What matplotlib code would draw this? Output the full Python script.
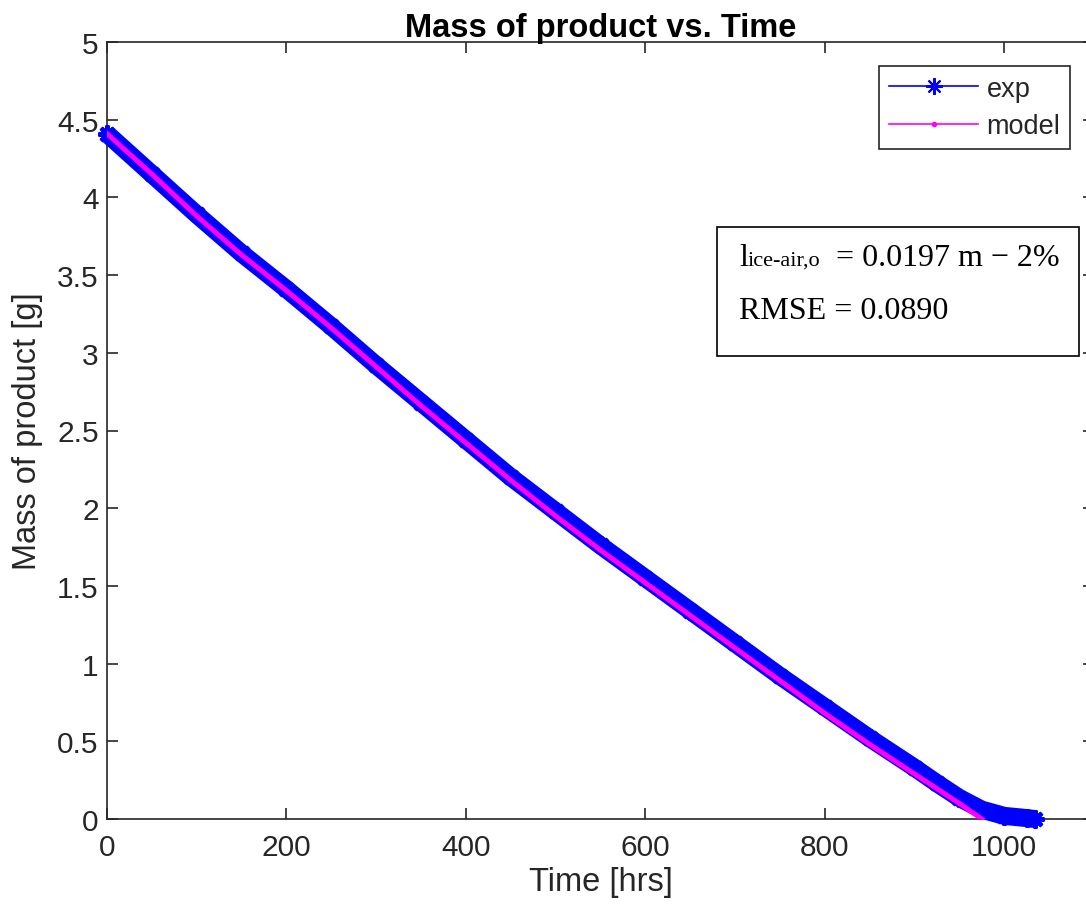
import matplotlib
matplotlib.use("Agg")
import matplotlib.pyplot as plt
from matplotlib.lines import Line2D
from matplotlib.patches import Rectangle
from matplotlib.offsetbox import TextArea, HPacker, VPacker, AnchoredOffsetbox

# Experimental mass record [hrs, g]
exp_time = [0, 50, 100, 150, 200, 250, 300, 350, 400, 450, 500, 550, 600,
            650, 700, 750, 800, 850, 900, 925, 950, 975, 1000, 1025, 1034]
exp_mass = [4.41, 4.15, 3.89, 3.64, 3.41, 3.17, 2.92, 2.68, 2.44, 2.20, 1.98,
            1.76, 1.55, 1.34, 1.13, 0.92, 0.72, 0.52, 0.33, 0.23, 0.135, 0.06,
            0.02, 0.006, 0.0]

# Model prediction [hrs, g]
model_time = [0, 50, 100, 150, 200, 250, 300, 350, 400, 450, 500, 550, 600,
              650, 700, 750, 800, 850, 900, 950, 975]
model_mass = [4.41, 4.15, 3.88, 3.63, 3.40, 3.16, 2.91, 2.66, 2.42, 2.18, 1.95,
              1.73, 1.52, 1.31, 1.10, 0.89, 0.68, 0.48, 0.29, 0.10, 0.0]

x_ticks = [0, 200, 400, 600, 800, 1000]
y_ticks = [0, 0.5, 1, 1.5, 2, 2.5, 3, 3.5, 4, 4.5, 5]
y_ticklabels = ["0", "0.5", "1", "1.5", "2", "2.5", "3", "3.5", "4", "4.5", "5"]

W, H = 1086, 920
axis_col = "#262626"
plt.rcParams["font.family"] = ["Liberation Sans", "DejaVu Sans"]

fig = plt.figure(figsize=(W / 100, H / 100), dpi=100)
ax = fig.add_axes([107 / W, (H - 820) / H, 987 / W, 777 / H])

ast = (8, 2, 0)
ax.plot(exp_time, exp_mass, color=(0, 0, 1), lw=13, solid_capstyle="butt",
        solid_joinstyle="round", zorder=3, clip_on=False)
ax.plot(exp_time, exp_mass, ls="none", marker=ast, ms=13, mew=3,
        mec=(0, 0, 1), zorder=3, clip_on=False)
ax.plot(model_time, model_mass, color=(1, 0, 1), lw=3.6, marker=".", ms=4,
        zorder=3.5)

ax.set_xlim(0, 1100)
ax.set_ylim(0, 5)
ax.set_xticks(x_ticks)
ax.set_yticks(y_ticks)
ax.set_yticklabels(y_ticklabels)
ax.tick_params(direction="in", length=8, width=1.2, colors=axis_col,
               labelsize=21.5, top=True, right=True, pad=6)
ax.tick_params(axis="x", pad=10)
for s in ax.spines.values():
    s.set_color(axis_col)
    s.set_linewidth(1.2)

ax.set_xlabel("Time [hrs]", fontsize=23.5, color=axis_col, labelpad=4)
ax.set_ylabel("Mass of product [g]", fontsize=23.5, color=axis_col, labelpad=10)
ax.set_title("Mass of product vs. Time", fontsize=23.5, fontweight="bold",
             color="black", pad=4)

handles = [
    Line2D([], [], color=(0, 0, 1), lw=1.2, marker=ast, ms=12, mew=1.5),
    Line2D([], [], color=(1, 0, 1), lw=1.2, marker=".", ms=6),
]
leg = ax.legend(handles, ["exp", "model"], loc="upper right",
                bbox_to_anchor=(1070 / W, 1 - 67 / H),
                bbox_transform=fig.transFigure, fontsize=19.5,
                frameon=True, fancybox=False, framealpha=1,
                edgecolor=axis_col, handlelength=3.3, handletextpad=0.3,
                borderpad=0.36, labelspacing=0.42, borderaxespad=0)
leg.get_frame().set_linewidth(1.2)
leg.set_zorder(6)
for t in leg.get_texts():
    t.set_color(axis_col)

# Annotation box with fitted parameter and error
box_l, box_r, box_t, box_b = 717, 1079, 228, 357
fig.add_artist(Rectangle((box_l / W, 1 - box_b / H),
                         (box_r - box_l) / W, (box_b - box_t) / H,
                         transform=fig.transFigure, fill=True, fc="white",
                         ec="black", lw=1.2, zorder=5))
serif = "Liberation Serif"
row1 = HPacker(children=[
    TextArea("l", textprops=dict(family=serif, fontsize=23)),
    TextArea("ice-air,o", textprops=dict(family=serif, fontsize=16)),
    TextArea("  = 0.0197 m \u2212 2%", textprops=dict(family=serif, fontsize=23)),
], align="baseline", pad=0, sep=0)
row2 = TextArea("RMSE = 0.0890", textprops=dict(family=serif, fontsize=23))
block = VPacker(children=[row1, row2], align="left", pad=0, sep=17)
ab = AnchoredOffsetbox(loc="upper left", child=block, pad=0, borderpad=0,
                       frameon=False,
                       bbox_to_anchor=(739 / W, 1 - 244 / H),
                       bbox_transform=fig.transFigure)
ab.set_zorder(6)
fig.add_artist(ab)

fig.savefig("out.png", dpi=100)
